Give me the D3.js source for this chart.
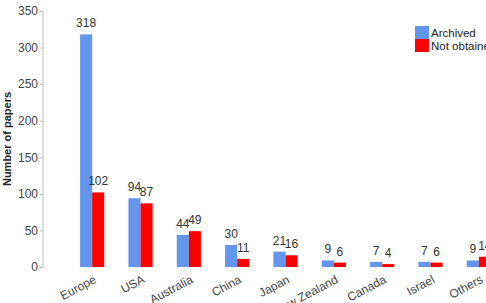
<!DOCTYPE html>
<html>
<head>
<meta charset="utf-8">
<script src="https://cdn.jsdelivr.net/npm/d3@7"></script>
<style>
  body { margin: 0; background: #fff; }
  svg { display: block; font-family: "Liberation Sans", Arial, sans-serif; }
</style>
</head>
<body>
<svg id="chart" width="486" height="303"></svg>
<script>
const regions = ['Europe', 'USA', 'Australia', 'China', 'Japan', 'New Zealand', 'Canada', 'Israel', 'Others'];
const archived = [318, 94, 44, 30, 21, 9, 7, 7, 9];
const notObtained = [102, 87, 49, 11, 16, 6, 4, 6, 14];
const seriesNames = ['Archived', 'Not obtained'];
const seriesColors = ['#6495ED', '#FF0000'];
const yTicks = [0, 50, 100, 150, 200, 250, 300, 350];

const svg = d3.select('#chart');

const x0 = d3.scaleBand()
  .domain(regions)
  .range([68, 503])
  .paddingInner(0.5)
  .paddingOuter(0.25);

const x1 = d3.scaleBand()
  .domain(seriesNames)
  .range([0, x0.bandwidth()]);

const y = d3.scaleLinear()
  .domain([0, 350])
  .range([267, 11]);

const color = d3.scaleOrdinal().domain(seriesNames).range(seriesColors);

const rows = regions.map((r, i) => ({
  region: r,
  values: [
    { key: seriesNames[0], value: archived[i] },
    { key: seriesNames[1], value: notObtained[i] },
  ],
}));

// y axis
const yAxis = svg.append('g')
  .attr('transform', 'translate(43,0)')
  .call(d3.axisLeft(y).tickValues(yTicks).tickSize(3).tickPadding(2));
yAxis.select('.domain').attr('stroke', '#bbb').attr('d', `M0,${y(350)}V${y(0)}`);
yAxis.selectAll('.tick line').attr('stroke', '#bbb');
yAxis.selectAll('.tick text').attr('fill', '#444').style('font-size', '12px');

svg.append('text')
  .attr('transform', 'translate(11,139) rotate(-90)')
  .attr('text-anchor', 'middle')
  .style('font-size', '11px')
  .style('font-weight', 'bold')
  .attr('fill', '#222')
  .text('Number of papers');

// bars
const groups = svg.selectAll('g.group')
  .data(rows)
  .enter().append('g')
  .attr('class', 'group')
  .attr('transform', d => `translate(${x0(d.region)},0)`);

groups.selectAll('rect')
  .data(d => d.values)
  .enter().append('rect')
  .attr('x', d => x1(d.key))
  .attr('y', d => y(d.value))
  .attr('width', x1.bandwidth())
  .attr('height', d => y(0) - y(d.value))
  .attr('fill', d => color(d.key));

groups.selectAll('text.val')
  .data(d => d.values)
  .enter().append('text')
  .attr('class', 'val')
  .attr('x', d => x1(d.key) + x1.bandwidth() / 2)
  .attr('y', d => y(d.value) - 7)
  .attr('text-anchor', 'middle')
  .attr('fill', '#333')
  .style('font-size', '12px')
  .text(d => d.value);

// x labels
svg.selectAll('text.xlab')
  .data(regions)
  .enter().append('text')
  .attr('class', 'xlab')
  .attr('transform', d => `translate(${x0(d) + x0.bandwidth() / 2 + 5},282) rotate(-28)`)
  .attr('text-anchor', 'end')
  .attr('fill', '#444')
  .style('font-size', '12px')
  .text(d => d);

// legend
const legend = svg.append('g').attr('transform', 'translate(415,26)');
seriesNames.forEach((s, i) => {
  legend.append('rect')
    .attr('x', 0)
    .attr('y', i * 13)
    .attr('width', 14)
    .attr('height', 13)
    .attr('fill', color(s));
  legend.append('text')
    .attr('x', 16)
    .attr('y', i * 13 + 11)
    .attr('fill', '#222')
    .style('font-size', '11.5px')
    .text(s);
});
</script>
</body>
</html>
